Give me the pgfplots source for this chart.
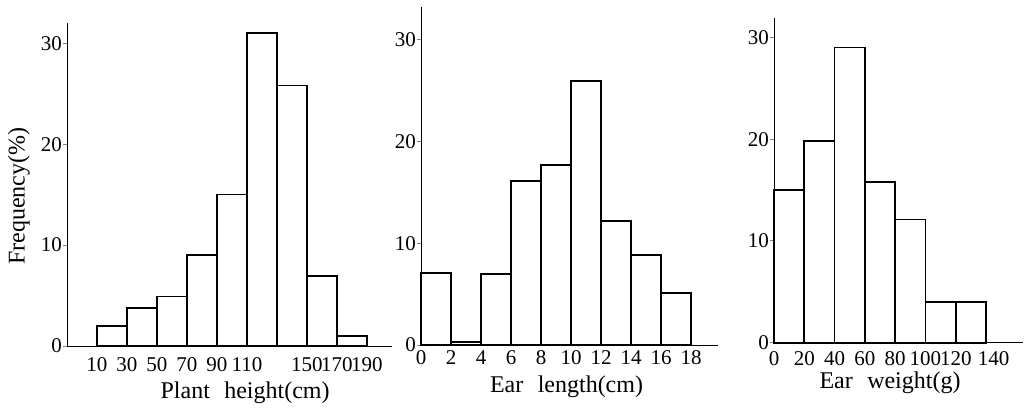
\documentclass[border=0pt]{standalone}
\usepackage{fontspec}
\setmainfont{Liberation Serif}
\usepackage{pgfplots}
\pgfplotsset{compat=1.18}
\begin{document}
\begin{tikzpicture}[x=1pt,y=1pt]
\useasboundingbox (0pt,0pt) rectangle (1028pt,407pt);
\pgfplotsset{
 hist/.style={
  scale only axis, anchor=south west,
  axis lines*=left, axis line style={line width=0.9pt},
  ymin=0, ytick={0,10,20,30},
  tick align=outside, major tick length=4pt,
  xtick style={draw=none}, ytick style={line width=0.9pt},
  tick label style={font=\fontsize{21}{24}\selectfont},
  label style={font=\fontsize{24}{28}\selectfont},
  /pgf/number format/assume math mode=true,
  yticklabel style={inner sep=1pt},
  clip=false,
 },
 bars/.style={ybar interval, fill=white, draw=black, line width=1.8pt},
}
\begin{axis}[hist, at={(67pt,61pt)}, width=325pt, height=323pt,
  xmin=-10, xmax=206.7, ymax=32,
  xtick={10,30,50,70,90,110,150,170,190},
  xticklabel style={anchor=center, yshift=-15pt},
  xlabel={Plant\hspace{0.6em}height(cm)},
  xlabel style={at={(axis description cs:0.548,0)}, anchor=center, yshift=-47pt},
  ylabel={Frequency(\%)},
  ylabel style={at={(axis description cs:0,0.464)}, anchor=center, yshift=48pt},
]
\addplot[bars] coordinates {(10,2) (30,3.8) (50,4.9) (70,9) (90,15) (110,31) (130,25.8) (150,6.9) (170,1) (190,0)};
\end{axis}
\begin{axis}[hist, at={(421pt,62pt)}, width=297pt, height=338pt,
  xmin=0, xmax=19.8, ymax=33.2,
  xtick={0,2,...,18},
  xticklabel style={anchor=center, yshift=-9pt},
  xlabel={Ear\hspace{0.6em}length(cm)},
  xlabel style={at={(axis description cs:0.49,0)}, anchor=center, yshift=-42pt},
]
\addplot[bars] coordinates {(0,7.1) (2,0.3) (4,7) (6,16.1) (8,17.7) (10,25.9) (12,12.2) (14,8.85) (16,5.1) (18,0)};
\end{axis}
\begin{axis}[hist, at={(774pt,64.3pt)}, width=249pt, height=324.7pt,
  xmin=0, xmax=164.4, ymax=31.9,
  xtick={0,20,40,60,80,100,120,145},
  xticklabels={0,20,40,60,80,100,120,140},
  xticklabel style={anchor=center, yshift=-12pt},
  xlabel={Ear\hspace{0.6em}weight(g)},
  xlabel style={at={(axis description cs:0.466,0)}, anchor=center, yshift=-40pt},
]
\addplot[bars] coordinates {(0,15) (20,19.8) (40,29) (60,15.8) (80,12.1) (100,4) (120,4) (140,0)};
\end{axis}
\end{tikzpicture}
\end{document}
